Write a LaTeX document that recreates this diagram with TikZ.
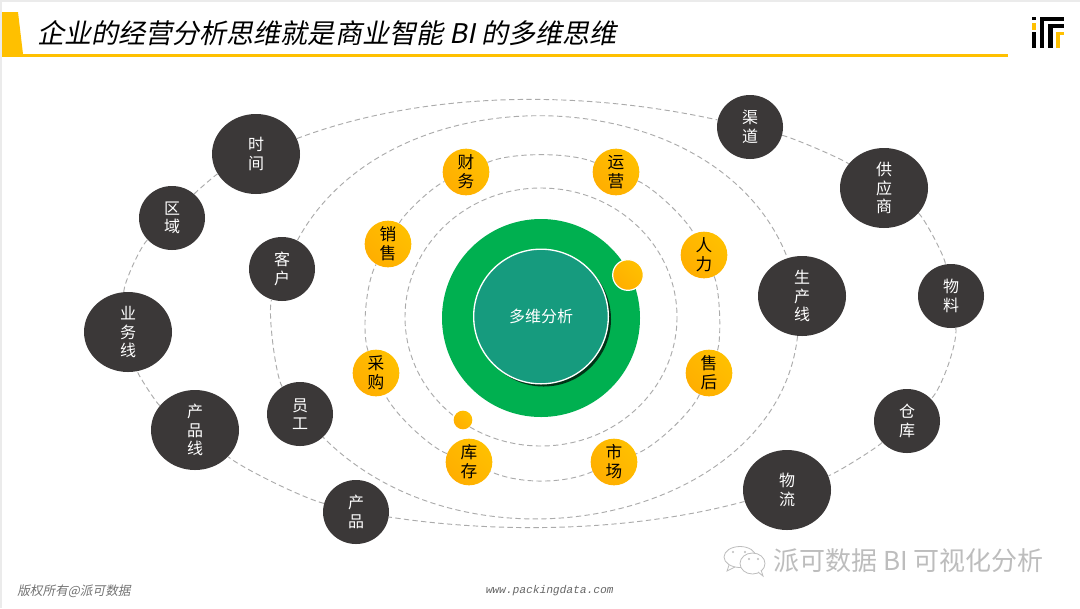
\documentclass[tikz,border=0pt]{standalone}
\usepackage{fontspec}
\usepackage{xcolor}
\usepackage{tikz}
\usetikzlibrary{shapes.geometric, shadows}

\setmainfont{Noto Sans CJK SC}
\newfontfamily\cjkslant[FakeSlant=0.2]{Noto Sans CJK SC}
\newfontfamily\urlfont[FakeSlant=0.2]{Liberation Mono}

\definecolor{barYellow}{HTML}{FFC000}
\definecolor{dotDeep}{HTML}{FFAE00}
\definecolor{darkNode}{HTML}{3B3838}
\definecolor{ringGreen}{HTML}{00B050}
\definecolor{coreTeal}{HTML}{169B7E}
\definecolor{orbitGray}{HTML}{ABABAB}
\definecolor{markGray}{HTML}{BDBDBD}

\tikzset{
  orbit/.style={draw=orbitGray, line width=0.7pt, dash pattern=on 4pt off 2.5pt},
  gold/.style={circle, inner sep=0pt, left color=barYellow, right color=dotDeep, shading angle=-45},
  inner/.style={gold, minimum size=35pt, align=center, text=black, font=\fontsize{12.5}{14.3}\selectfont},
  dim/.style={ellipse, fill=darkNode, inner sep=0pt, align=center, text=white, font=\fontsize{12}{13.9}\selectfont},
  small/.style={dim, minimum width=49.5pt, minimum height=48pt},
  big/.style={dim, minimum width=66pt, minimum height=60pt}
}

\begin{document}
\begin{tikzpicture}[x=0.75pt, y=-0.75pt]
  \useasboundingbox (0,0) rectangle (1080,608);

  % Page and title bar
  \fill[black!8] (0,0) rectangle (1080,608);
  \fill[white] (2,2) rectangle (1080,608);
  \fill[barYellow] (2,12) -- (18,12) -- (23,54) -- (2,54) -- cycle;
  \fill[barYellow] (2,54) rectangle (1008,57);
  \node[anchor=west, inner sep=0pt, font=\cjkslant\fontsize{20.3}{23}\selectfont] (Title) at (37,33)
        {企业的经营分析思维就是商业智能 BI 的多维思维};

  % Logo
  \fill[black] (1032,17) rectangle (1036,20);
  \fill[barYellow] (1032,23) rectangle (1036,30);
  \fill[black] (1032,32) rectangle (1036,48);
  \fill[black] (1040,17) rectangle (1044,48);
  \fill[black] (1040,17) rectangle (1064,21);
  \fill[black] (1048,24) rectangle (1053,48);
  \fill[black] (1048,24) rectangle (1064,28);
  \fill[barYellow] (1056,32) rectangle (1060,48);
  \fill[barYellow] (1056,32) rectangle (1064,35);

  % Innermost orbit and centre
  \draw[orbit] (541,317) ellipse [x radius=136, y radius=129];
  \node[circle, fill=ringGreen, inner sep=0pt, minimum size=148.5pt] (Ring) at (541,318) {};
  \node[circle, draw=white, line width=1pt, fill=coreTeal, inner sep=0pt, minimum size=101pt,
        drop shadow={shadow xshift=2pt, shadow yshift=-2pt, opacity=0.7, fill=black},
        text=white, font=\fontsize{12}{14}\selectfont] (Core) at (541,316.5) {多维分析};
  \node[gold, draw=white, line width=0.9pt, minimum size=23pt] (DotA) at (628,275) {};
  \node[gold, minimum size=14pt] (DotB) at (463,420) {};

  % Second orbit nodes
  \node[inner] (Finance)  at (466,172) {财\\务};
  \node[inner] (Ops)      at (616,172) {运\\营};
  \node[inner] (Staff)    at (704,255) {人\\力};
  \node[inner] (Service)  at (709,373) {售\\后};
  \node[inner] (Market)   at (614,462) {市\\场};
  \node[inner] (Stock)    at (469,462) {库\\存};
  \node[inner] (Purchase) at (376,373) {采\\购};
  \node[inner] (Sales)    at (388,244) {销\\售};

  % Third orbit nodes
  \node[small] (Client)   at (282,269) {客\\户};
  \node[small] (Employee) at (300,414) {员\\工};
  \node[big]   (ProdFlow) at (802,296) {生\\产\\线};

  % Outer orbit nodes
  \node[big]   (Time)     at (256,154) {时\\间};
  \node[small] (Region)   at (172,218) {区\\域};
  \node[big]   (BizLine)  at (128,332) {业\\务\\线};
  \node[big]   (ProdLine) at (195,430) {产\\品\\线};
  \node[small] (Product)  at (356,512) {产\\品};
  \node[big]   (Logistic) at (787,490) {物\\流};
  \node[small] (Depot)    at (907,421) {仓\\库};
  \node[small] (Material) at (951,296) {物\\料};
  \node[big]   (Supplier) at (884,188) {供\\应\\商};
  \node[small] (Channel)  at (750,127) {渠\\道};

  % Orbit arcs
  \foreach \src/\dst/\ang/\loose in {Finance/Ops/24/0.61, Ops/Staff/21/0.55, Staff/Service/23/0.45,
      Service/Market/23/0.58, Market/Stock/24/0.78, Stock/Purchase/23/0.57,
      Purchase/Sales/25/0.58, Sales/Finance/19/0.51,
      Employee/Client/26/0.36,
      Channel/Supplier/10/0.39, Supplier/Material/22/0.35, Material/Depot/28/0.48,
      Depot/Logistic/11/0.38, Product/ProdLine/12/0.49, ProdLine/BizLine/21/0.24,
      BizLine/Region/27/0.38, Region/Time/10/0.23}
    \draw[orbit] (\src) to[bend left=\ang, looseness=\loose] (\dst);

  % Long arcs
  \draw[orbit] (Client) .. controls ++(109,-203) and ++(-84,-219) .. (ProdFlow);
  \draw[orbit] (ProdFlow) .. controls ++(-25,225) and ++(170,171) .. (Employee);
  \draw[orbit] (Time) .. controls ++(159,-60) and ++(-183,-40) .. (Channel);
  \draw[orbit] (Logistic) .. controls ++(-152,41) and ++(148,22.5) .. (Product);

  % Footer
  \node[anchor=west, inner sep=0pt, text=black!55, font=\cjkslant\fontsize{9.5}{11}\selectfont] (Rights) at (17,591)
        {版权所有@派可数据};
  \node[anchor=west, inner sep=0pt, text=black!60, font=\urlfont\fontsize{8.4}{10}\selectfont] (Site) at (485,591)
        {www.packingdata.com};

  % Watermark
  \draw[markGray, line width=0.6pt] (740,557) ellipse [x radius=16, y radius=10.5];
  \draw[markGray, line width=0.6pt] (729,565) -- (727,571) -- (735,567);
  \draw[markGray, line width=0.6pt, fill=white] (752.5,563.5) ellipse [x radius=12.5, y radius=10.5];
  \draw[markGray, line width=0.6pt, fill=white] (758,572) -- (763,576) -- (761,570);
  \foreach \ex/\ey in {733/552, 745/552, 749/559, 758/559}
    \fill[markGray] (\ex,\ey) circle [radius=1.2];
  \node[anchor=west, inner sep=0pt, text=markGray, font=\fontsize{19.5}{22}\selectfont] (Mark) at (773,561)
        {派可数据 BI 可视化分析};
\end{tikzpicture}
\end{document}
